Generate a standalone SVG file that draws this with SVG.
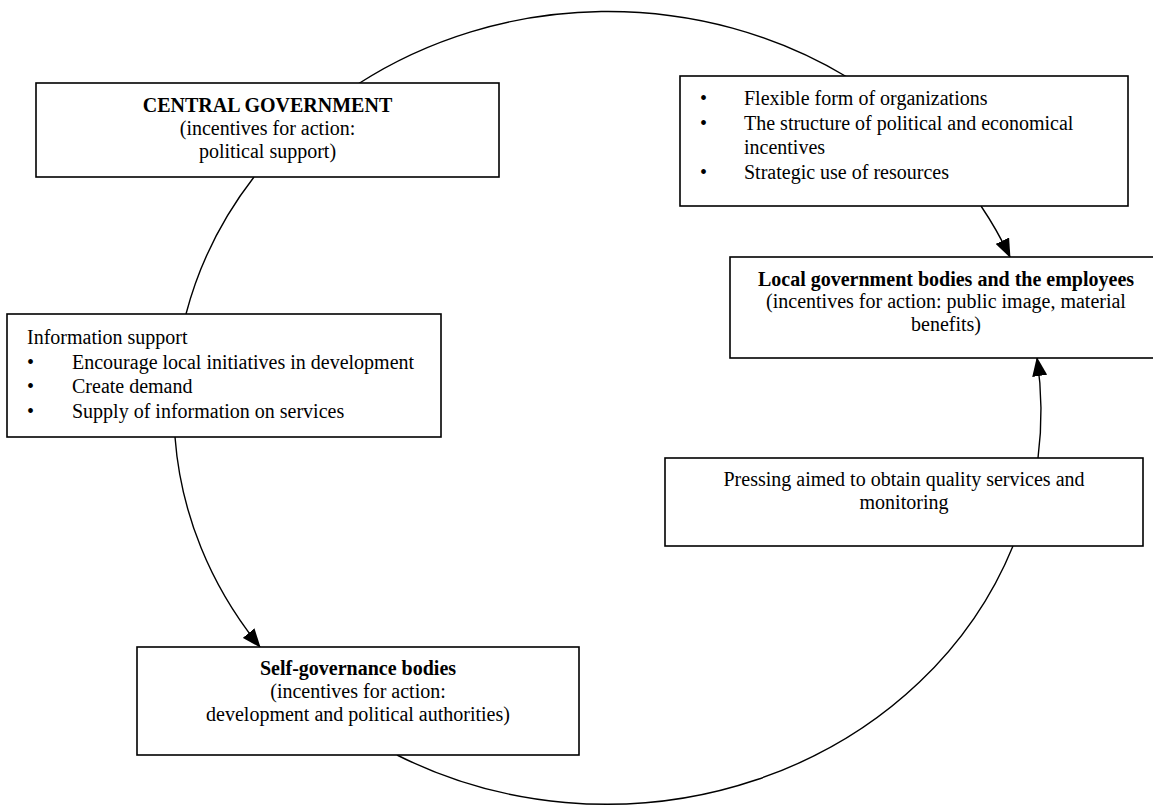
<svg xmlns="http://www.w3.org/2000/svg" width="1153" height="807" viewBox="0 0 1153 807">
<style>
.box{fill:#fff;stroke:#000;stroke-width:1.6}
.c{fill:none;stroke:#000;stroke-width:1.4}
text{font-family:"Liberation Serif","Times New Roman",serif;font-size:20px;fill:#000}
.b{font-weight:bold}
.m{text-anchor:middle}
</style>
<defs>
<marker id="ah" markerUnits="userSpaceOnUse" markerWidth="19" markerHeight="15" viewBox="0 0 19 15" refX="18" refY="7.5" orient="auto">
<path d="M0,0 L19,7.5 L0,15 z" fill="#000"/>
</marker>
</defs>
<rect width="1153" height="807" fill="#fff"/>
<g id="connectors">
<path class="c" d="M358,84 A434,397 0 0 1 847,77"/>
<path class="c" d="M981,206 A434,397 0 0 1 1010,257" marker-end="url(#ah)"/>
<path class="c" d="M1038,458 A434,397 0 0 0 1037,358" marker-end="url(#ah)"/>
<path class="c" d="M1013,546 A434,397 0 0 1 397,755"/>
<path class="c" d="M175,437 A434,397 0 0 0 260,647" marker-end="url(#ah)"/>
<path class="c" d="M254,177 A434,397 0 0 0 186,314"/>
</g>
<g id="central-government">
<rect class="box" x="36" y="83" width="463" height="94"/>
<text class="m b" x="267.5" y="112">CENTRAL GOVERNMENT</text>
<text class="m" x="267.5" y="135">(incentives for action:</text>
<text class="m" x="267.5" y="158">political support)</text>
</g>
<g id="information-support">
<rect class="box" x="7" y="314" width="434" height="123"/>
<text x="27" y="344">Information support</text>
<text x="27" y="369">•</text><text x="72" y="369">Encourage local initiatives in development</text>
<text x="27" y="393">•</text><text x="72" y="393">Create demand</text>
<text x="27" y="418">•</text><text x="72" y="418">Supply of information on services</text>
</g>
<g id="self-governance">
<rect class="box" x="137" y="647" width="442" height="108"/>
<text class="m b" x="358" y="675">Self-governance bodies</text>
<text class="m" x="358" y="698">(incentives for action:</text>
<text class="m" x="358" y="721">development and political authorities)</text>
</g>
<g id="pressing">
<rect class="box" x="665" y="458" width="478" height="88"/>
<text class="m" x="904" y="486">Pressing aimed to obtain quality services and</text>
<text class="m" x="904" y="509">monitoring</text>
</g>
<g id="local-government">
<rect class="box" x="730" y="257" width="432" height="101"/>
<text class="m b" x="946" y="286">Local government bodies and the employees</text>
<text class="m" x="946" y="308">(incentives for action: public image, material</text>
<text class="m" x="946" y="331">benefits)</text>
</g>
<g id="flexible">
<rect class="box" x="680" y="76" width="448" height="130"/>
<text x="700" y="105">•</text><text x="744" y="105">Flexible form of organizations</text>
<text x="700" y="130">•</text><text x="744" y="130">The structure of political and economical</text>
<text x="744" y="154">incentives</text>
<text x="700" y="179">•</text><text x="744" y="179">Strategic use of resources</text>
</g>
</svg>
